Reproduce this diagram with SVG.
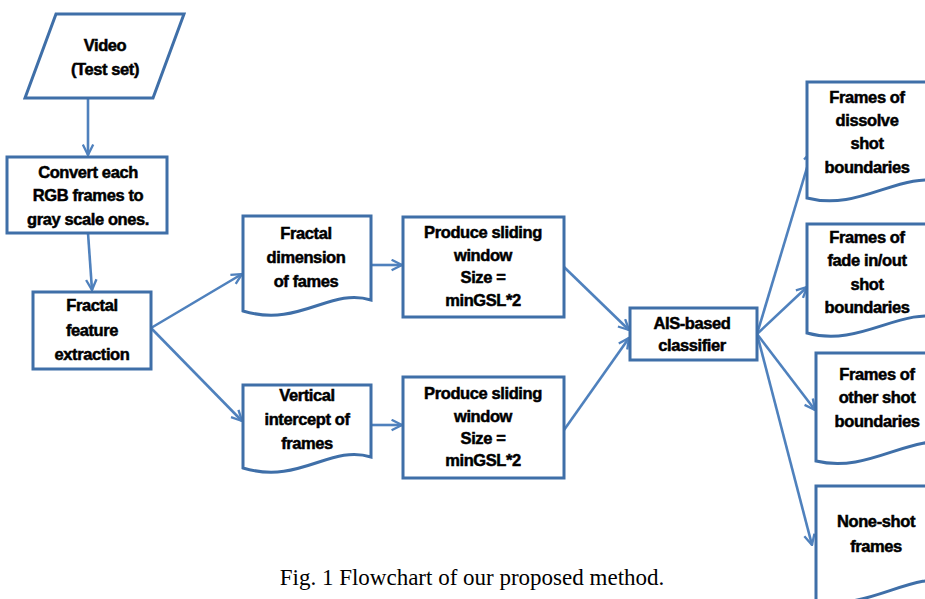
<svg xmlns="http://www.w3.org/2000/svg" width="925" height="599" viewBox="0 0 925 599">
<defs>
<style>
.box{fill:#fff;stroke:#3f6fa8;stroke-width:3;stroke-linejoin:miter}
.conn line{stroke:#4f81bd;stroke-width:2.6;marker-end:url(#ah)}
.t{font-family:"Liberation Sans",Arial,sans-serif;font-weight:bold;font-size:16.5px;text-anchor:middle;fill:#000;stroke:#000;stroke-width:0.5px;letter-spacing:-0.4px}
.cap{font-family:"Liberation Serif","Times New Roman",serif;font-size:23px;text-anchor:middle;fill:#000}
</style>
<marker id="ah" viewBox="0 0 10 10" refX="9" refY="5" markerWidth="5" markerHeight="5" orient="auto" markerUnits="strokeWidth">
<polyline points="1,1 9,5 1,9" fill="none" stroke="#4f81bd" stroke-width="1.8"/>
</marker>
</defs>
<rect width="925" height="599" fill="#fff"/>

<g class="conn" id="connectors">
<line x1="88" y1="98" x2="88" y2="155"/>
<line x1="88" y1="233" x2="92" y2="290"/>
<line x1="151" y1="328" x2="242" y2="274"/>
<line x1="151" y1="328" x2="242" y2="421"/>
<line x1="371" y1="265" x2="402" y2="265"/>
<line x1="371" y1="425" x2="402" y2="425"/>
<line x1="564" y1="267" x2="629" y2="330"/>
<line x1="564" y1="430" x2="629" y2="338"/>
<line x1="757" y1="334" x2="812" y2="151"/>
<line x1="757" y1="334" x2="807" y2="287"/>
<line x1="757" y1="334" x2="815" y2="410"/>
<line x1="757" y1="334" x2="812" y2="545"/>
</g>

<g id="video">
<polygon class="box" points="56,14 184,14 153,98 25,98"/>
<text class="t" x="105" y="51">Video</text>
<text class="t" x="105" y="75">(Test set)</text>
</g>

<g id="convert">
<rect class="box" x="7" y="157" width="160" height="76"/>
<text class="t" x="88" y="178">Convert each</text>
<text class="t" x="88" y="201">RGB frames to</text>
<text class="t" x="88" y="225">gray scale ones.</text>
</g>

<g id="fractal-feature">
<rect class="box" x="33" y="292" width="118" height="77"/>
<text class="t" x="92" y="311">Fractal</text>
<text class="t" x="92" y="336">feature</text>
<text class="t" x="92" y="360">extraction</text>
</g>

<g id="fractal-dimension">
<path class="box" d="M243,216 H371 V300 C330,287 300,328 243,311 Z"/>
<text class="t" x="306" y="239">Fractal</text>
<text class="t" x="306" y="263">dimension</text>
<text class="t" x="306" y="287">of fames</text>
</g>

<g id="vertical-intercept">
<path class="box" d="M243,385 H371 V457 C330,444 300,485 243,468 Z"/>
<text class="t" x="307" y="401">Vertical</text>
<text class="t" x="307" y="425">intercept of</text>
<text class="t" x="307" y="449">frames</text>
</g>

<g id="sliding-window-1">
<rect class="box" x="403" y="217" width="161" height="100"/>
<text class="t" x="483" y="238">Produce sliding</text>
<text class="t" x="483" y="261">window</text>
<text class="t" x="483" y="283">Size =</text>
<text class="t" x="483" y="306">minGSL*2</text>
</g>

<g id="sliding-window-2">
<rect class="box" x="403" y="377" width="161" height="101"/>
<text class="t" x="483" y="399">Produce sliding</text>
<text class="t" x="483" y="422">window</text>
<text class="t" x="483" y="444">Size =</text>
<text class="t" x="483" y="466">minGSL*2</text>
</g>

<g id="ais-classifier">
<rect class="box" x="630" y="308" width="127" height="52"/>
<text class="t" x="692" y="329">AIS-based</text>
<text class="t" x="692" y="351">classifier</text>
</g>

<g id="dissolve">
<path class="box" d="M807,82 H945 V182 C900,170 860,212 807,198 Z"/>
<text class="t" x="867" y="103">Frames of</text>
<text class="t" x="867" y="126">dissolve</text>
<text class="t" x="867" y="149">shot</text>
<text class="t" x="867" y="173">boundaries</text>
</g>

<g id="fade">
<path class="box" d="M807,224 H945 V318 C900,306 860,348 807,333 Z"/>
<text class="t" x="867" y="243">Frames of</text>
<text class="t" x="867" y="266">fade in/out</text>
<text class="t" x="867" y="290">shot</text>
<text class="t" x="867" y="313">boundaries</text>
</g>

<g id="other">
<path class="box" d="M816,353 H955 V444 C910,432 870,474 816,461 Z"/>
<text class="t" x="877" y="380">Frames of</text>
<text class="t" x="877" y="403">other shot</text>
<text class="t" x="877" y="427">boundaries</text>
</g>

<g id="none-shot">
<path class="box" d="M816,486 H955 V582 C910,570 870,612 816,600 Z"/>
<text class="t" x="876" y="527">None-shot</text>
<text class="t" x="876" y="552">frames</text>
</g>

<text class="cap" x="472" y="585">Fig. 1 Flowchart of our proposed method.</text>
</svg>
